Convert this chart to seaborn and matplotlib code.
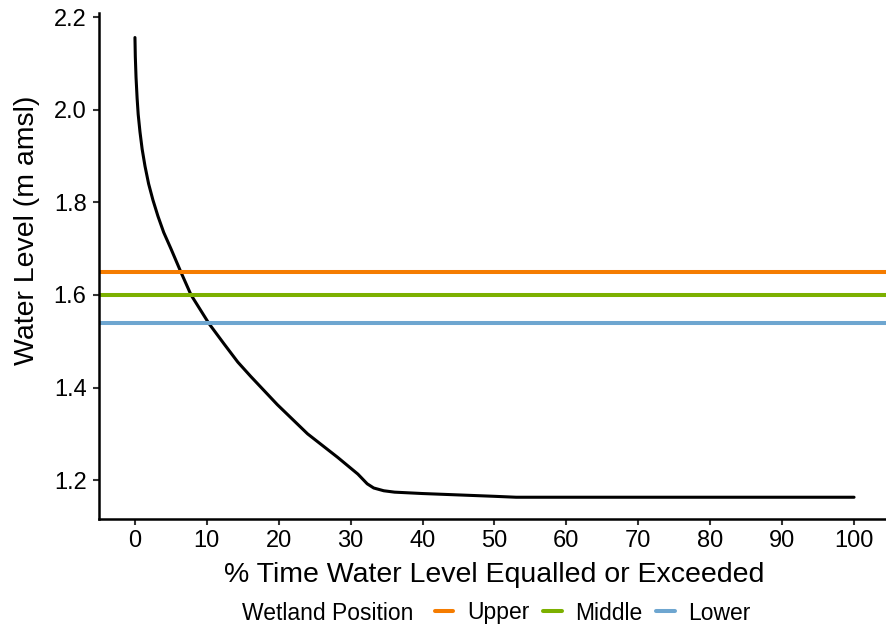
import matplotlib
matplotlib.use("Agg")
import matplotlib.pyplot as plt
import seaborn as sns
import pandas as pd
from matplotlib.lines import Line2D

# Data
pct_time = [0, 0.05, 0.15, 0.3, 0.45, 0.7, 1.0, 1.4, 1.9, 2.5, 3.2, 4.0, 5.0, 6.4, 7.8,
            10.3, 12.4, 14.3, 16.1, 19.8, 24.0, 28.2, 31.0, 32.3, 33.2, 34.6, 36.1,
            40, 45, 50, 53, 60, 80, 100]
water_level = [2.156, 2.115, 2.070, 2.025, 1.990, 1.952, 1.915, 1.878, 1.840, 1.805,
               1.770, 1.735, 1.700, 1.649, 1.600, 1.538, 1.494, 1.455, 1.424, 1.363,
               1.300, 1.249, 1.213, 1.192, 1.183, 1.177, 1.174, 1.171, 1.168, 1.165,
               1.163, 1.163, 1.163, 1.163]
positions = ["Upper", "Middle", "Lower"]
position_levels = [1.65, 1.60, 1.54]
position_colors = ["#F57C00", "#7CB000", "#6EA6D0"]
x_ticks = [0, 10, 20, 30, 40, 50, 60, 70, 80, 90, 100]
y_ticks = [1.2, 1.4, 1.6, 1.8, 2.0, 2.2]

sns.set_theme(style="ticks")
plt.rcParams["font.family"] = ["Liberation Sans", "DejaVu Sans"]
plt.rcParams["text.color"] = "black"

fig = plt.figure(figsize=(8.86, 6.30), dpi=100)
W, H = 886, 630
left_px, right_px, top_px, bottom_px = 99, 890, 13, 519
ax = fig.add_axes([left_px / W, 1 - bottom_px / H, (right_px - left_px) / W, (bottom_px - top_px) / H])

df = pd.DataFrame({"pct": pct_time, "level": water_level})
sns.lineplot(data=df, x="pct", y="level", ax=ax, color="black", linewidth=2.2, sort=False)

for name, lvl, col in zip(positions, position_levels, position_colors):
    ax.axhline(lvl, color=col, linewidth=2.9, label=name)

ax.set_xlim(-5, 105)
ax.set_ylim(1.116, 2.209)
ax.set_xticks(x_ticks)
ax.set_yticks(y_ticks)
ax.set_yticklabels([f"{v:.1f}" for v in y_ticks])
ax.tick_params(axis="both", labelsize=17, length=4, width=1.5, color="#333333",
               labelcolor="black")
ax.tick_params(axis="x", pad=4)
ax.tick_params(axis="y", pad=5)
for s in ["top", "right"]:
    ax.spines[s].set_visible(False)
for s in ["left", "bottom"]:
    ax.spines[s].set_linewidth(1.8)
    ax.spines[s].set_color("black")

ax.set_xlabel("")
ax.set_ylabel("")
fig.text(494 / W, 1 - 575 / H, "% Time Water Level Equalled or Exceeded", fontsize=20.5,
         ha="center", va="center", color="black")
fig.text(27 / W, 1 - 230 / H, "Water Level (m amsl)", fontsize=20.5, rotation=90,
         ha="center", va="center", color="black")

handles = [Line2D([], [], color=c, linewidth=2.9) for c in position_colors]
fig.text(242 / W, 1 - 613 / H, "Wetland Position", fontsize=16.5, va="center", ha="left",
         color="black")
leg = fig.legend(handles, positions, loc="center left", bbox_to_anchor=(435 / W, 1 - 613 / H),
                 ncol=3, frameon=False, fontsize=16.5, handlelength=0.8, handletextpad=0.6,
                 columnspacing=0.6, borderpad=0, borderaxespad=0)
for t in leg.get_texts():
    t.set_color("black")

fig.savefig("out.png", dpi=100)
